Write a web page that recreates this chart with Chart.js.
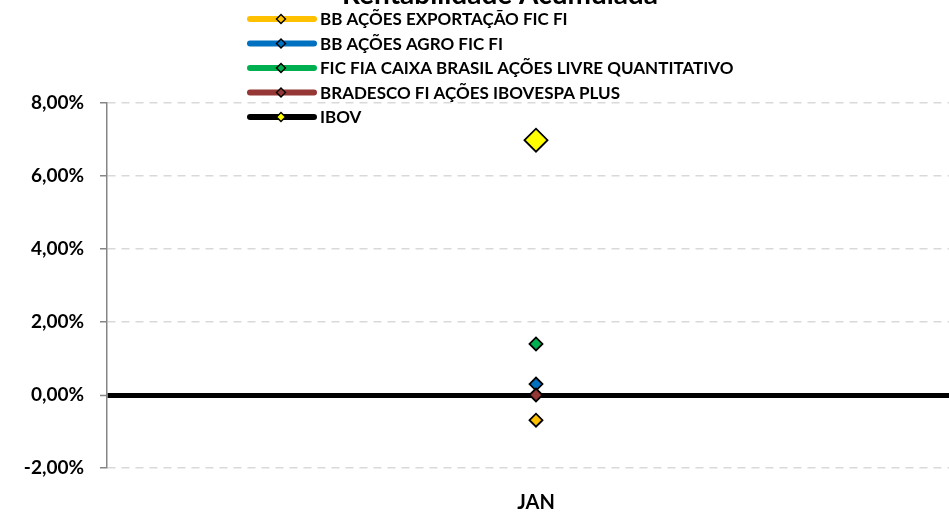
<!DOCTYPE html>
<html>
<head>
<meta charset="utf-8">
<script src="https://cdn.jsdelivr.net/npm/chart.js@4"></script>
<style>
  html, body { margin: 0; padding: 0; background: #fff; overflow: hidden; }
  canvas { display: block; }
</style>
</head>
<body>
<canvas id="rentChart" width="965" height="513"></canvas>
<script>
const categories = ["JAN"];
const seriesNames = [
  "BB AÇÕES EXPORTAÇÃO FIC FI",
  "BB AÇÕES AGRO FIC FI",
  "FIC FIA CAIXA BRASIL AÇÕES LIVRE QUANTITATIVO",
  "BRADESCO FI AÇÕES IBOVESPA PLUS",
  "IBOV"
];
const exportacao = [-0.69];
const agro = [0.3];
const caixa = [1.4];
const bradesco = [0.0];
const ibov = [6.98];
const yTicks = [-2, 0, 2, 4, 6, 8];

const FONT = "Lato, 'Liberation Sans', sans-serif";

function fmtPct(v) {
  return v.toFixed(2).replace(".", ",") + "%";
}

function makeSet(label, data, line, fill, radius, order) {
  return {
    label: label,
    data: data,
    borderColor: line,
    backgroundColor: line,
    pointBackgroundColor: fill,
    pointBorderColor: "#000",
    pointBorderWidth: 1.8,
    pointStyle: "rectRot",
    pointRadius: radius,
    pointHoverRadius: radius,
    borderWidth: 5,
    showLine: false,
    order: order
  };
}

// title is cut off at the top in the reference, legend is a single column
const titleAndLegend = {
  id: "titleAndLegend",
  afterDraw(chart) {
    const ctx = chart.ctx;
    ctx.save();
    ctx.fillStyle = "#000";
    ctx.font = "bold 28px " + FONT;
    ctx.textAlign = "center";
    ctx.textBaseline = "alphabetic";
    ctx.fillText("Rentabilidade Acumulada", 500, 4);

    chart.data.datasets.forEach((ds, i) => {
      const y = 19 + i * 24.5;
      ctx.strokeStyle = ds.borderColor;
      ctx.lineWidth = 6;
      ctx.lineCap = "round";
      ctx.beginPath();
      ctx.moveTo(250, y);
      ctx.lineTo(314, y);
      ctx.stroke();

      const cx = 281, r = 4.5;
      ctx.beginPath();
      ctx.moveTo(cx, y - r);
      ctx.lineTo(cx + r, y);
      ctx.lineTo(cx, y + r);
      ctx.lineTo(cx - r, y);
      ctx.closePath();
      ctx.fillStyle = ds.pointBackgroundColor;
      ctx.fill();
      ctx.lineWidth = 1.4;
      ctx.strokeStyle = "#000";
      ctx.stroke();

      ctx.fillStyle = "#000";
      ctx.font = "bold 17px " + FONT;
      ctx.textAlign = "left";
      ctx.textBaseline = "middle";
      ctx.fillText(ds.label, 320, y + 1);
    });
    ctx.restore();
  }
};

const chart = new Chart(document.getElementById("rentChart"), {
  type: "line",
  data: {
    labels: categories,
    datasets: [
      makeSet(seriesNames[0], exportacao, "#FFC000", "#FFC000", 6.5, 5),
      makeSet(seriesNames[1], agro, "#0070C0", "#0070C0", 6.5, 4),
      makeSet(seriesNames[2], caixa, "#00B050", "#00B050", 6.5, 3),
      makeSet(seriesNames[3], bradesco, "#953735", "#953735", 6.5, 2),
      makeSet(seriesNames[4], ibov, "#000000", "#FFFF00", 11.5, 1)
    ]
  },
  options: {
    responsive: false,
    animation: false,
    layout: {
      autoPadding: false,
      padding: { top: 103, right: 0, bottom: 0, left: 0 }
    },
    plugins: {
      legend: { display: false },
      title: { display: false },
      tooltip: { enabled: false }
    },
    scales: {
      x: {
        offset: true,
        grid: { display: false, drawTicks: false },
        border: { display: false },
        afterFit: function(scale) {
          scale.height = 45;
        },
        ticks: {
          padding: 23,
          color: "#000",
          font: { family: FONT, size: 20, weight: "bold" }
        }
      },
      y: {
        min: -2,
        max: 8,
        afterBuildTicks: function(scale) {
          scale.ticks = yTicks.map(v => ({ value: v }));
        },
        afterFit: function(scale) {
          scale.width = 107;
        },
        ticks: {
          padding: 16,
          color: "#000",
          font: { family: FONT, size: 19, weight: "bold" },
          callback: function(value) {
            return fmtPct(value);
          }
        },
        grid: {
          color: ctx => (ctx.tick && ctx.tick.value === 0 ? "#000" : "#D9D9D9"),
          lineWidth: ctx => (ctx.tick && ctx.tick.value === 0 ? 5 : 1.5),
          tickColor: "#868686",
          tickLength: 7,
          tickWidth: 1.5,
          tickBorderDash: []
        },
        border: {
          display: true,
          color: "#868686",
          width: 1.5,
          dash: ctx => (ctx.tick && ctx.tick.value === 0 ? [] : [8, 6])
        }
      }
    }
  },
  plugins: [titleAndLegend]
});
</script>
</body>
</html>
